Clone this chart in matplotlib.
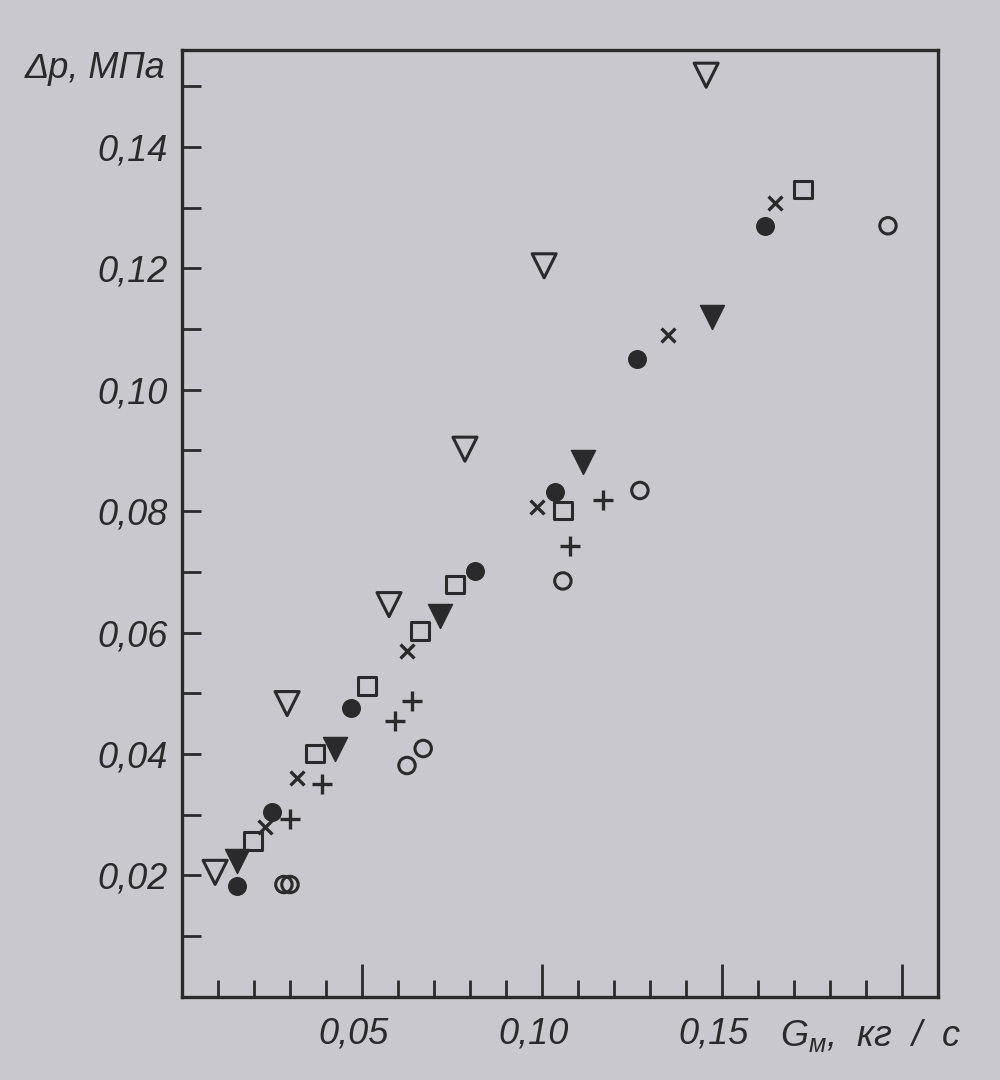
import matplotlib
matplotlib.use("Agg")
import matplotlib.pyplot as plt
from matplotlib.ticker import MultipleLocator, FixedLocator
from matplotlib.transforms import ScaledTranslation

# значения: G_м, кг/с и Δp, МПа
tri_open_x = [0.0092, 0.0292, 0.0575, 0.0786, 0.1006, 0.1456]
tri_open_y = [0.0205, 0.0483, 0.0646, 0.0902, 0.1204, 0.1518]

tri_fill_x = [0.0153, 0.0425, 0.0717, 0.1114, 0.1472]
tri_fill_y = [0.0224, 0.0409, 0.0627, 0.0881, 0.1119]

circ_fill_x = [0.0153, 0.0250, 0.0469, 0.0814, 0.1036, 0.1264, 0.1620]
circ_fill_y = [0.0182, 0.0305, 0.0475, 0.0702, 0.0831, 0.1050, 0.1270]

cross_x = [0.0230, 0.0320, 0.0625, 0.0986, 0.1350, 0.1647]
cross_y = [0.0280, 0.0360, 0.0570, 0.0806, 0.1090, 0.1308]

sq_x = [0.0197, 0.0369, 0.0514, 0.0661, 0.0758, 0.1058, 0.1725]
sq_y = [0.0257, 0.0401, 0.0512, 0.0603, 0.0679, 0.0801, 0.1330]

plus_x = [0.0300, 0.0389, 0.0592, 0.0639, 0.1078, 0.1170]
plus_y = [0.0293, 0.0351, 0.0454, 0.0487, 0.0742, 0.0818]

circ_open_x = [0.0283, 0.0300, 0.0625, 0.0670, 0.1058, 0.1272, 0.1961]
circ_open_y = [0.0185, 0.0185, 0.0381, 0.0409, 0.0685, 0.0834, 0.1270]

y_ticks = [0.02, 0.04, 0.06, 0.08, 0.10, 0.12, 0.14]
x_ticks = [0.05, 0.10, 0.15]

FON = "#c9c9cd"
TUSH = "#2a2a2c"
RAZMER = 26

plt.rcParams["font.family"] = ["Liberation Sans", "DejaVu Sans"]

fig = plt.figure(figsize=(10, 10.8), dpi=100)
fig.patch.set_facecolor(FON)
ax = fig.add_axes([0.182, 0.077, 0.756, 0.877])
ax.set_facecolor(FON)

ax.set_xlim(0, 0.21)
ax.set_ylim(0, 0.156)

kw_open = dict(facecolors="none", edgecolors=TUSH, linewidths=2.2, zorder=3)
kw_fill = dict(color=TUSH, zorder=3)
ax.scatter(tri_open_x, tri_open_y, marker="v", s=300, **kw_open)
ax.scatter(tri_fill_x, tri_fill_y, marker="v", s=300, **kw_fill)
ax.scatter(circ_fill_x, circ_fill_y, marker="o", s=160, **kw_fill)
ax.scatter(cross_x, cross_y, marker="x", s=100, color=TUSH, linewidths=2.4, zorder=3)
ax.scatter(sq_x, sq_y, marker="s", s=160, **kw_open)
ax.scatter(plus_x, plus_y, marker="+", s=190, color=TUSH, linewidths=2.4, zorder=3)
ax.scatter(circ_open_x, circ_open_y, marker="o", s=140, **kw_open)

for sp in ax.spines.values():
    sp.set_color(TUSH)
    sp.set_linewidth(2.4)

ax.xaxis.set_major_locator(FixedLocator(x_ticks + [0.20]))
ax.xaxis.set_minor_locator(MultipleLocator(0.01))
ax.yaxis.set_major_locator(FixedLocator(y_ticks))
ax.yaxis.set_minor_locator(MultipleLocator(0.01))
ax.tick_params(axis="both", which="both", direction="in", color=TUSH, width=2)
ax.tick_params(axis="x", which="major", length=24, pad=14)
ax.tick_params(axis="x", which="minor", length=12)
ax.tick_params(axis="y", which="both", length=14)
ax.tick_params(axis="y", which="major", pad=10)

ax.set_xticklabels([f"{v:.2f}".replace(".", ",") for v in x_ticks] + [""])
ax.set_yticklabels([f"{v:.2f}".replace(".", ",") for v in y_ticks])
sdvig = ScaledTranslation(-8 / 100, 0, fig.dpi_scale_trans)
for lab in ax.get_xticklabels():
    lab.set_transform(lab.get_transform() + sdvig)
for lab in ax.get_xticklabels() + ax.get_yticklabels():
    lab.set_fontsize(RAZMER)
    lab.set_style("italic")
    lab.set_color(TUSH)

fig.text(0.025, 0.937, "Δp, МПа", fontsize=RAZMER, style="italic", color=TUSH,
         ha="left", va="center")
fig.text(0.780, 0.041, r"G$_{\mathregular{м}}$,  кг  /  с", fontsize=RAZMER, style="italic",
         color=TUSH, ha="left", va="center")

fig.savefig("out.png", dpi=100, facecolor=FON)
